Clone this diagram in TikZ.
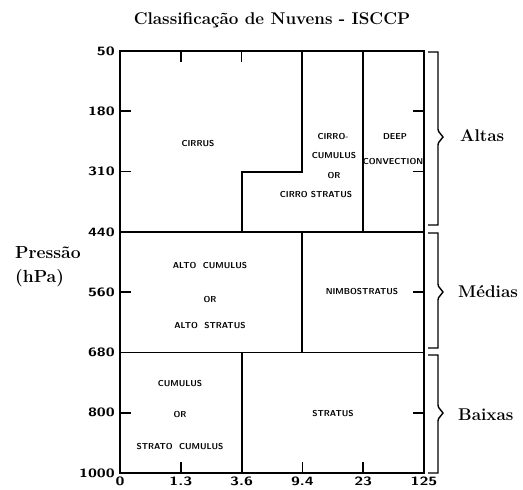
\documentclass[tikz,border=0pt]{standalone}
\usepackage{tikz}
\usetikzlibrary{positioning}
\usetikzlibrary{calc}

\newcommand{\widenum}[1]{\scalebox{1.35}[1]{#1}}

\tikzset{
	frame/.style={line width=1.9pt, line join=miter},
	tickmark/.style={line width=1.6pt},
	cloudtext/.style={font=\sffamily\bfseries\fontsize{8.6}{9}\selectfont, inner sep=0pt},
	axistext/.style={font=\sffamily\bfseries\fontsize{12}{12}\selectfont, inner sep=0pt},
	bigtext/.style={font=\bfseries\fontsize{17}{17}\selectfont, inner sep=0pt},
	bracket/.style={line width=1.4pt, line join=miter},
}

\begin{document}
\begin{tikzpicture}[x=1pt, y=-1pt]
	
	\useasboundingbox (0,0) rectangle (523,490);
	
	% ---------------------
	% Grid: columns (optical depth) & rows (pressure)
	\foreach \i in {0,...,5}{
		\coordinate (X\i) at ({120+60.8*\i},473);
	}
	\foreach \j in {0,...,7}{
		\coordinate (Y\j) at (120,{51+60.29*\j});
	}
	
	% ---------------------
	% Frame & cells
	\draw[frame] (X0 |- Y0) rectangle (X5 |- Y7);
	
	\draw[frame] (Y3) -- (X5 |- Y3);
	\draw[frame] (Y5) -- (X5 |- Y5);
	
	\draw[frame] (X3 |- Y0) -- (X3 |- Y2) -- (X2 |- Y2) -- (X2 |- Y3);
	\draw[frame] (X4 |- Y0) -- (X4 |- Y3);
	\draw[frame] (X3 |- Y3) -- (X3 |- Y5);
	\draw[frame] (X2 |- Y5) -- (X2 |- Y7);
	
	% ---------------------
	% Tick marks
	\foreach \i in {1,2}
		\draw[tickmark] (X\i |- Y0) -- +(0,11);
	\foreach \i in {1,3,4}
		\draw[tickmark] (X\i |- Y7) -- +(0,-11);
	\foreach \j in {1,2,4,6}{
		\draw[tickmark] (Y\j) -- +(11,0);
		\draw[tickmark] (X5 |- Y\j) -- +(-11,0);
	}
	
	% ---------------------
	% Axis labels
	\foreach \j/\p in {0/50,1/180,2/310,3/440,4/560,5/680,6/800,7/1000}
		\node[axistext, anchor=east] (p\p) at ($(Y\j)+(-5,0)$) {\widenum{\p}};
	\foreach \i/\t in {0/0,1/1.3,2/3.6,3/9.4,4/23,5/125}
		\node[axistext, anchor=north] (tau\i) at ($(X\i)+(0,4)$) {\widenum{\t}};
	
	\node[bigtext, font=\bfseries\fontsize{17.5}{17.5}\selectfont, anchor=base west] (Pressao) at (15,258) {Pressão};
	\node[bigtext, font=\bfseries\fontsize{17.5}{17.5}\selectfont, anchor=base west] (hPa) at (15,282) {(hPa)};
	
	\node[bigtext, anchor=base] (Title) at (272,24) {Classificação de Nuvens - ISCCP};
	
	% ---------------------
	% Cloud types
	\node[cloudtext] (Cirrus) at (198,144) {CIRRUS};
	
	\node[cloudtext] (Cc1) at (333,137) {CIRRO-};
	\node[cloudtext] (Cc2) at (334,156) {CUMULUS};
	\node[cloudtext] (Cc3) at (334,176) {OR};
	\node[cloudtext] (Cc4) at (316,195) {CIRRO STRATUS};
	
	\node[cloudtext] (Deep1) at (395,137) {DEEP};
	\node[cloudtext] (Deep2) at (393,162) {CONVECTION};
	
	\node[cloudtext] (Ac1) at (210,266) {ALTO\ \ CUMULUS};
	\node[cloudtext] (Ac2) at (210,300) {OR};
	\node[cloudtext] (Ac3) at (210,326) {ALTO\ \ STRATUS};
	
	\node[cloudtext] (Ns) at (362,292) {NIMBOSTRATUS};
	
	\node[cloudtext] (Cu1) at (180,384) {CUMULUS};
	\node[cloudtext] (Cu2) at (180,415) {OR};
	\node[cloudtext] (Cu3) at (180,447) {STRATO\ \ CUMULUS};
	
	\node[cloudtext] (St) at (333,414) {STRATUS};
	
	% ---------------------
	% Level brackets
	\draw[bracket] (428,52) -- (438,52) -- (438,129)
		.. controls (438,133) and (442,134) .. (443,137)
		.. controls (442,140) and (438,141) .. (438,145)
		-- (438,225) -- (428,225);
	\draw[bracket] (428,233) -- (438,233) -- (438,284)
		.. controls (438,288) and (442,289) .. (443,292)
		.. controls (442,295) and (438,296) .. (438,300)
		-- (438,348) -- (428,348);
	\draw[bracket] (428,355) -- (438,355) -- (438,405)
		.. controls (438,409) and (442,410) .. (443,413)
		.. controls (442,416) and (438,417) .. (438,421)
		-- (438,473) -- (428,473);
	
	\node[bigtext, anchor=base west] (Altas) at (460,141) {Altas};
	\node[bigtext, anchor=base west] (Medias) at (458,297) {Médias};
	\node[bigtext, anchor=base west] (Baixas) at (458,420) {Baixas};
	
\end{tikzpicture}
\end{document}
